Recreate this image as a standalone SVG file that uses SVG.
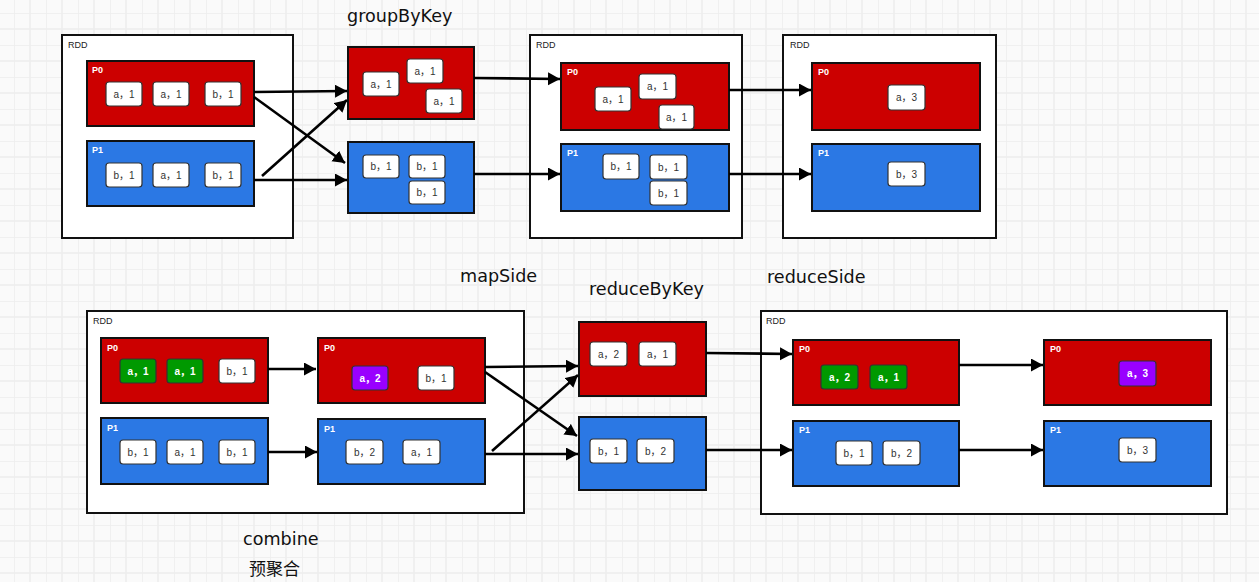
<svg xmlns="http://www.w3.org/2000/svg" width="1259" height="582" viewBox="0 0 1259 582">
<defs>
<pattern id="grid" x="14" y="13" width="32" height="32" patternUnits="userSpaceOnUse">
<path d="M0 0V32M16 0V32M0 0H32M0 16H32" stroke="#ededed" stroke-width="1.5" fill="none"/>
</pattern>
<marker id="ah" markerUnits="userSpaceOnUse" markerWidth="14" markerHeight="14" refX="12" refY="6.5" orient="auto">
<path d="M0,0 L12,6.5 L0,13 z" fill="#000"/>
</marker>
<style>
.rdd{fill:#fff;stroke:#111;stroke-width:2}
.rl{font-family:"Liberation Sans",sans-serif;font-size:9px;fill:#222}
.red{fill:#cc0000;stroke:#111;stroke-width:2}
.blue{fill:#2b78e4;stroke:#111;stroke-width:2}
.pl{font-family:"Liberation Sans",sans-serif;font-size:9px;font-weight:bold;fill:#fff}
.it{fill:#fff;stroke:#333;stroke-width:1.2}
.gr{fill:#009900;stroke:#333;stroke-width:1.2}
.pu{fill:#9900ff;stroke:#333;stroke-width:1.2}
.t{font-family:"Liberation Sans","Noto Sans CJK SC",sans-serif;font-size:10px;fill:#333;text-anchor:middle}
.tw{font-family:"Liberation Sans","Noto Sans CJK SC",sans-serif;font-size:10px;font-weight:bold;fill:#fff;text-anchor:middle}
.h{font-family:"DejaVu Sans","Noto Sans CJK SC",sans-serif;font-size:17.6px;fill:#111}
.cn{font-family:"Noto Sans CJK SC",sans-serif;font-size:17px;fill:#111}
.c{stroke:#000;stroke-width:2.6;fill:none;marker-end:url(#ah)}
</style>
</defs>
<rect width="1259" height="582" fill="#fafafa"/>
<rect width="1259" height="582" fill="url(#grid)"/>

<text class="h" x="347" y="22">groupByKey</text>
<text class="h" x="460" y="282">mapSide</text>
<text class="h" x="589" y="295">reduceByKey</text>
<text class="h" x="767" y="283">reduceSide</text>
<text class="h" x="243" y="545">combine</text>
<text class="cn" x="249" y="575">预聚合</text>

<!-- Top: RDD1 -->
<g id="rdd1">
<rect class="rdd" x="62" y="35" width="231" height="203"/>
<text class="rl" x="68" y="48">RDD</text>
</g>
<g id="rdd1-p0">
<rect class="red" x="87" y="61" width="167" height="65"/>
<text class="pl" x="92" y="73">P0</text>
<rect class="it" x="106" y="82" width="36" height="24" rx="3"/><text class="t" x="124" y="98">a，1</text>
<rect class="it" x="153" y="82" width="36" height="24" rx="3"/><text class="t" x="171" y="98">a，1</text>
<rect class="it" x="205" y="82" width="36" height="24" rx="3"/><text class="t" x="223" y="98">b，1</text>
</g>
<g id="rdd1-p1">
<rect class="blue" x="87" y="141" width="167" height="65"/>
<text class="pl" x="92" y="153">P1</text>
<rect class="it" x="106" y="163" width="36" height="24" rx="3"/><text class="t" x="124" y="179">b，1</text>
<rect class="it" x="153" y="163" width="36" height="24" rx="3"/><text class="t" x="171" y="179">a，1</text>
<rect class="it" x="205" y="163" width="36" height="24" rx="3"/><text class="t" x="223" y="179">b，1</text>
</g>

<!-- groupByKey -->
<g id="gbk-p0">
<rect class="red" x="348" y="47" width="126" height="72"/>
<rect class="it" x="363" y="72" width="36" height="24" rx="3"/><text class="t" x="381" y="88">a，1</text>
<rect class="it" x="407" y="59" width="36" height="24" rx="3"/><text class="t" x="425" y="75">a，1</text>
<rect class="it" x="426" y="89" width="36" height="24" rx="3"/><text class="t" x="444" y="105">a，1</text>
</g>
<g id="gbk-p1">
<rect class="blue" x="348" y="142" width="126" height="71"/>
<rect class="it" x="363" y="155" width="36" height="23" rx="3"/><text class="t" x="381" y="170">b，1</text>
<rect class="it" x="409" y="155" width="36" height="23" rx="3"/><text class="t" x="427" y="170">b，1</text>
<rect class="it" x="409" y="181" width="36" height="23" rx="3"/><text class="t" x="427" y="196">b，1</text>
</g>

<!-- RDD2 -->
<g id="rdd2">
<rect class="rdd" x="530" y="35" width="212" height="203"/>
<text class="rl" x="536" y="48">RDD</text>
</g>
<g id="rdd2-p0">
<rect class="red" x="561" y="63" width="168" height="67"/>
<text class="pl" x="567" y="75">P0</text>
<rect class="it" x="595" y="87" width="36" height="24" rx="3"/><text class="t" x="613" y="103">a，1</text>
<rect class="it" x="639" y="74" width="37" height="25" rx="3"/><text class="t" x="657.5" y="90">a，1</text>
<rect class="it" x="659" y="105" width="35" height="24" rx="3"/><text class="t" x="676.5" y="121">a，1</text>
</g>
<g id="rdd2-p1">
<rect class="blue" x="561" y="144" width="168" height="67"/>
<text class="pl" x="567" y="156">P1</text>
<rect class="it" x="603" y="154" width="36" height="25" rx="3"/><text class="t" x="621" y="170">b，1</text>
<rect class="it" x="650" y="155" width="37" height="24" rx="3"/><text class="t" x="668.5" y="171">b，1</text>
<rect class="it" x="650" y="181" width="37" height="24" rx="3"/><text class="t" x="668.5" y="197">b，1</text>
</g>

<!-- RDD3 -->
<g id="rdd3">
<rect class="rdd" x="783" y="35" width="213" height="203"/>
<text class="rl" x="790" y="48">RDD</text>
</g>
<g id="rdd3-p0">
<rect class="red" x="812" y="63" width="168" height="67"/>
<text class="pl" x="818" y="75">P0</text>
<rect class="it" x="888" y="85" width="37" height="25" rx="3"/><text class="t" x="906.5" y="101">a，3</text>
</g>
<g id="rdd3-p1">
<rect class="blue" x="812" y="144" width="168" height="67"/>
<text class="pl" x="818" y="156">P1</text>
<rect class="it" x="888" y="162" width="37" height="24" rx="3"/><text class="t" x="906.5" y="178">b，3</text>
</g>

<!-- Bottom: RDD4 -->
<g id="rdd4">
<rect class="rdd" x="87" y="311" width="437" height="202"/>
<text class="rl" x="93" y="324">RDD</text>
</g>
<g id="rdd4-p0a">
<rect class="red" x="101" y="338" width="167" height="65"/>
<text class="pl" x="107" y="351">P0</text>
<rect class="gr" x="120" y="359" width="36" height="24" rx="3"/><text class="tw" x="138" y="375">a，1</text>
<rect class="gr" x="167" y="359" width="36" height="24" rx="3"/><text class="tw" x="185" y="375">a，1</text>
<rect class="it" x="219" y="359" width="36" height="24" rx="3"/><text class="t" x="237" y="375">b，1</text>
</g>
<g id="rdd4-p1a">
<rect class="blue" x="101" y="418" width="167" height="66"/>
<text class="pl" x="107" y="431">P1</text>
<rect class="it" x="120" y="440" width="36" height="24" rx="3"/><text class="t" x="138" y="456">b，1</text>
<rect class="it" x="167" y="440" width="36" height="24" rx="3"/><text class="t" x="185" y="456">a，1</text>
<rect class="it" x="219" y="440" width="36" height="24" rx="3"/><text class="t" x="237" y="456">b，1</text>
</g>
<g id="rdd4-p0b">
<rect class="red" x="318" y="338" width="167" height="65"/>
<text class="pl" x="324" y="351">P0</text>
<rect class="pu" x="352" y="366" width="36" height="24" rx="3"/><text class="tw" x="370" y="382">a，2</text>
<rect class="it" x="418" y="366" width="36" height="24" rx="3"/><text class="t" x="436" y="382">b，1</text>
</g>
<g id="rdd4-p1b">
<rect class="blue" x="318" y="419" width="167" height="65"/>
<text class="pl" x="324" y="432">P1</text>
<rect class="it" x="346" y="440" width="37" height="24" rx="3"/><text class="t" x="364.5" y="456">b，2</text>
<rect class="it" x="403" y="440" width="37" height="24" rx="3"/><text class="t" x="421.5" y="456">a，1</text>
</g>

<!-- reduceByKey -->
<g id="rbk-p0">
<rect class="red" x="579" y="322" width="127" height="74"/>
<rect class="it" x="590" y="342" width="37" height="24" rx="3"/><text class="t" x="608.5" y="358">a，2</text>
<rect class="it" x="639" y="342" width="37" height="24" rx="3"/><text class="t" x="657.5" y="358">a，1</text>
</g>
<g id="rbk-p1">
<rect class="blue" x="579" y="417" width="127" height="73"/>
<rect class="it" x="590" y="439" width="37" height="24" rx="3"/><text class="t" x="608.5" y="455">b，1</text>
<rect class="it" x="637" y="439" width="37" height="24" rx="3"/><text class="t" x="655.5" y="455">b，2</text>
</g>

<!-- RDD5 -->
<g id="rdd5">
<rect class="rdd" x="761" y="311" width="466" height="203"/>
<text class="rl" x="766" y="324">RDD</text>
</g>
<g id="rdd5-p0a">
<rect class="red" x="793" y="340" width="166" height="65"/>
<text class="pl" x="799" y="352">P0</text>
<rect class="gr" x="821" y="365" width="37" height="24" rx="3"/><text class="tw" x="839.5" y="381">a，2</text>
<rect class="gr" x="870" y="365" width="37" height="24" rx="3"/><text class="tw" x="888.5" y="381">a，1</text>
</g>
<g id="rdd5-p1a">
<rect class="blue" x="793" y="421" width="166" height="65"/>
<text class="pl" x="799" y="433">P1</text>
<rect class="it" x="836" y="441" width="36" height="24" rx="3"/><text class="t" x="854" y="457">b，1</text>
<rect class="it" x="883" y="441" width="37" height="24" rx="3"/><text class="t" x="901.5" y="457">b，2</text>
</g>
<g id="rdd5-p0b">
<rect class="red" x="1044" y="340" width="167" height="65"/>
<text class="pl" x="1050" y="352">P0</text>
<rect class="pu" x="1119" y="361" width="37" height="25" rx="3"/><text class="tw" x="1137.5" y="377">a，3</text>
</g>
<g id="rdd5-p1b">
<rect class="blue" x="1044" y="421" width="167" height="65"/>
<text class="pl" x="1050" y="433">P1</text>
<rect class="it" x="1119" y="438" width="37" height="24" rx="3"/><text class="t" x="1137.5" y="454">b，3</text>
</g>

<!-- Connectors -->
<g id="connectors">
<line class="c" x1="254" y1="92" x2="347" y2="91"/>
<line class="c" x1="254" y1="97" x2="345" y2="163"/>
<line class="c" x1="262" y1="176" x2="347" y2="100"/>
<line class="c" x1="254" y1="180" x2="347" y2="180"/>
<line class="c" x1="474" y1="78" x2="560" y2="79"/>
<line class="c" x1="474" y1="174" x2="560" y2="174"/>
<line class="c" x1="729" y1="90" x2="811" y2="90"/>
<line class="c" x1="729" y1="174" x2="811" y2="174"/>
<line class="c" x1="268" y1="369" x2="316" y2="369"/>
<line class="c" x1="268" y1="452" x2="317" y2="452"/>
<line class="c" x1="485" y1="367" x2="578" y2="366"/>
<line class="c" x1="485" y1="372" x2="577" y2="436"/>
<line class="c" x1="492" y1="451" x2="578" y2="375"/>
<line class="c" x1="485" y1="454" x2="578" y2="454"/>
<line class="c" x1="706" y1="353" x2="792" y2="354"/>
<line class="c" x1="706" y1="450" x2="792" y2="450"/>
<line class="c" x1="959" y1="365" x2="1043" y2="365"/>
<line class="c" x1="959" y1="450" x2="1043" y2="450"/>
</g>
</svg>
